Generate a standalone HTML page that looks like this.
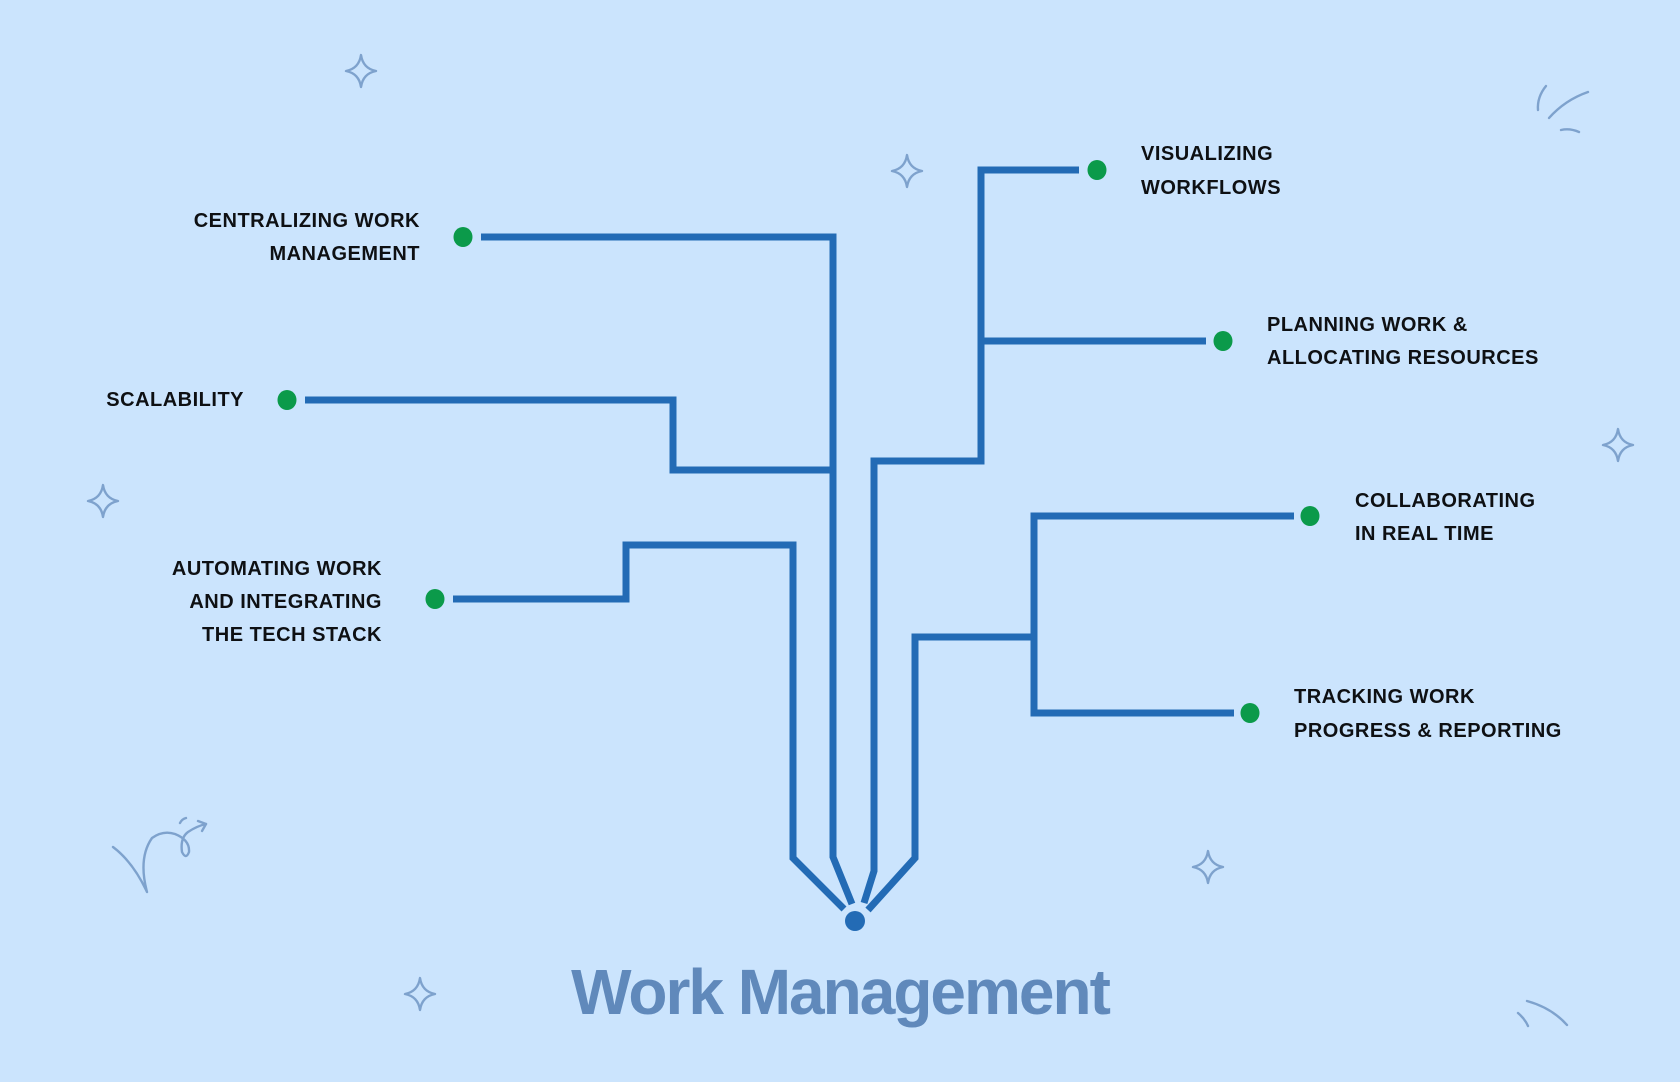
<!DOCTYPE html>
<html>
<head>
<meta charset="utf-8">
<style>
  html, body { margin:0; padding:0; }
  body { width:1680px; height:1082px; background:#cbe4fd; overflow:hidden; }
  svg { display:block; }
  .lbl { font-family:"Liberation Sans", Arial, sans-serif; font-weight:700; font-size:20px; letter-spacing:0.5px; fill:#0e1013; }
  .title { font-family:"Liberation Sans", Arial, sans-serif; font-weight:700; font-size:64px; letter-spacing:-2px; fill:#6089bb; }
  .ln { fill:none; stroke:#236bb5; stroke-width:7; stroke-linejoin:miter; stroke-linecap:butt; }
  .dec { fill:none; stroke:#7ea2cd; stroke-width:2.4; stroke-linecap:round; stroke-linejoin:round; }
</style>
</head>
<body>
<svg width="1680" height="1082" viewBox="0 0 1680 1082" xmlns="http://www.w3.org/2000/svg">
  <rect x="0" y="0" width="1680" height="1082" fill="#cbe4fd"/>

  <defs>
    <path id="star" d="M0,-16 Q2,-2.5 15,0 Q2,2.5 0,16 Q-2,2.5 -15,0 Q-2,-2.5 0,-16Z"/>
  </defs>
  <g class="dec">
    <use href="#star" x="361" y="71"/>
    <use href="#star" x="907" y="171"/>
    <use href="#star" x="103" y="501"/>
    <use href="#star" x="1618" y="445"/>
    <use href="#star" x="1208" y="867"/>
    <use href="#star" x="420" y="994"/>
  </g>

  <g class="dec">
    <path d="M1546,86 Q1537,97 1538,110"/>
    <path d="M1549,118 Q1565,100 1588,92"/>
    <path d="M1561,130 Q1570,128 1579,132"/>
    <path d="M1518,1013 Q1525,1019 1528,1026"/>
    <path d="M1527,1001 Q1552,1008 1567,1025"/>
    <path d="M113,847 Q133,862 147,892 Q138,858 152,838 Q163,830 175,834 Q190,840 189,852 Q186,860 182,852 Q180,838 188,832 Q197,826 206,824"/>
    <path d="M198,821 L206,824 L202,831"/>
    <path d="M180,823 Q182,819 186,818"/>
  </g>

  <path class="ln" d="M481,237 H833 V857 L852,904"/>
  <path class="ln" d="M305,400 H673 V470 H833"/>
  <path class="ln" d="M453,599 H626 V545 H793 V858 L844,909"/>
  <path class="ln" d="M1079,170 H981 V461 H874 V871 L864,903"/>
  <path class="ln" d="M981,341 H1206"/>
  <path class="ln" d="M1294,516 H1034 V713 H1234"/>
  <path class="ln" d="M1034,637 H915 V858 L868,910"/>

  <circle cx="855" cy="921" r="10" fill="#236bb5"/>

  <g fill="#0b9a4a">
    <ellipse cx="463" cy="237" rx="9.5" ry="10"/>
    <ellipse cx="287" cy="400" rx="9.5" ry="10"/>
    <ellipse cx="435" cy="599" rx="9.5" ry="10"/>
    <ellipse cx="1097" cy="170" rx="9.5" ry="10"/>
    <ellipse cx="1223" cy="341" rx="9.5" ry="10"/>
    <ellipse cx="1310" cy="516" rx="9.5" ry="10"/>
    <ellipse cx="1250" cy="713" rx="9.5" ry="10"/>
  </g>

  <text class="lbl" x="420" y="227" text-anchor="end">CENTRALIZING WORK</text>
  <text class="lbl" x="420" y="260" text-anchor="end">MANAGEMENT</text>
  <text class="lbl" x="244" y="406" text-anchor="end">SCALABILITY</text>
  <text class="lbl" x="382" y="575" text-anchor="end">AUTOMATING WORK</text>
  <text class="lbl" x="382" y="608" text-anchor="end">AND INTEGRATING</text>
  <text class="lbl" x="382" y="641" text-anchor="end">THE TECH STACK</text>

  <text class="lbl" x="1141" y="160">VISUALIZING</text>
  <text class="lbl" x="1141" y="194">WORKFLOWS</text>
  <text class="lbl" x="1267" y="331">PLANNING WORK &amp;</text>
  <text class="lbl" x="1267" y="364">ALLOCATING RESOURCES</text>
  <text class="lbl" x="1355" y="507">COLLABORATING</text>
  <text class="lbl" x="1355" y="540">IN REAL TIME</text>
  <text class="lbl" x="1294" y="703">TRACKING WORK</text>
  <text class="lbl" x="1294" y="737">PROGRESS &amp; REPORTING</text>

  <text class="title" x="840" y="1014" text-anchor="middle">Work Management</text>
</svg>
</body>
</html>
